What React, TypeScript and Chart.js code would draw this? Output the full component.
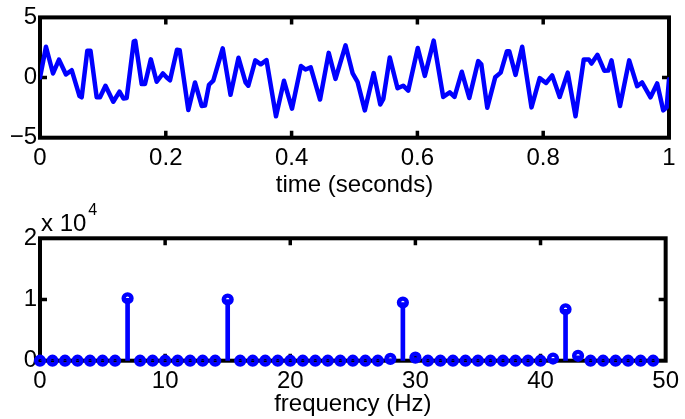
import React, { useEffect, useRef } from "react";
import { Chart, registerables } from "chart.js";

Chart.register(...registerables);

// ---- Data ----
const timeSec = [0, 0.0095, 0.0207, 0.0302, 0.0413, 0.0504, 0.0628, 0.0663, 0.0752, 0.0803, 0.0901, 0.0954, 0.1041, 0.1165, 0.1264, 0.1328, 0.1378, 0.1491, 0.1515, 0.1617, 0.1669, 0.1762, 0.1855, 0.1955, 0.2019, 0.2067, 0.2178, 0.2221, 0.2358, 0.2464, 0.2571, 0.2623, 0.2687, 0.2755, 0.2905, 0.3029, 0.3156, 0.3267, 0.3312, 0.3423, 0.3509, 0.3601, 0.3752, 0.3879, 0.4006, 0.4149, 0.4221, 0.4304, 0.4452, 0.459, 0.4698, 0.4857, 0.4971, 0.5048, 0.5164, 0.5305, 0.541, 0.5458, 0.5561, 0.5684, 0.5774, 0.5854, 0.6006, 0.6118, 0.6259, 0.641, 0.6515, 0.659, 0.6706, 0.6825, 0.6967, 0.7016, 0.7111, 0.7237, 0.7324, 0.7424, 0.7461, 0.756, 0.7666, 0.7814, 0.7944, 0.8045, 0.8143, 0.8262, 0.839, 0.8514, 0.8645, 0.8725, 0.8768, 0.8863, 0.8971, 0.9035, 0.9086, 0.9221, 0.9367, 0.9494, 0.9571, 0.9706, 0.9812, 0.9909, 0.9963, 1.0];
const signal = [0, 2.56, 0.34, 1.49, 0.26, 0.61, -1.54, -1.64, 2.23, 2.23, -1.64, -1.64, -0.68, -2.01, -1.17, -1.75, -1.7, 3.01, 3.05, -0.54, -0.54, 1.51, -0.35, 0.34, -0.02, -0.23, 2.31, 2.27, -2.7, -0.41, -2.36, -2.32, -0.6, -0.25, 2.43, -1.43, 1.64, -0.39, -0.68, 1.43, 1.1, 1.45, -3.22, -0.27, -2.59, 0.96, 0.67, 0.85, -1.83, 2.05, -0.11, 2.68, 0.34, -0.35, -2.73, 0.37, -2.24, -1.77, 1.67, -0.89, -0.68, -1.09, 2.46, 0.14, 3.07, -1.61, -1.23, -1.61, 0.48, -1.7, 1.37, 1.1, -2.51, 0.02, 0.41, 2.19, 2.19, 0.22, 2.56, -2.48, -0.05, -0.45, 0.18, -1.61, 0.41, -3.22, 1.51, 1.51, 1.16, 1.89, 0.57, 0.59, 1.43, -2.36, 1.43, -0.72, -0.41, -1.64, -0.49, -2.73, -2.48, -0.15];

const freqHz = [0, 1, 2, 3, 4, 5, 6, 7, 8, 9, 10, 11, 12, 13, 14, 15, 16, 17, 18, 19, 20, 21, 22, 23, 24, 25, 26, 27, 28, 29, 30, 31, 32, 33, 34, 35, 36, 37, 38, 39, 40, 41, 42, 43, 44, 45, 46, 47, 48, 49];
const power = [0, 0, 0, 0, 0, 0, 0, 10200, 0, 0, 0, 0, 0, 0, 0, 10000, 0, 0, 0, 0, 0, 0, 0, 0, 0, 0, 0, 0, 300, 9500, 500, 0, 0, 0, 0, 0, 0, 0, 0, 0, 0, 350, 8400, 800, 0, 0, 0, 0, 0, 0];

const timeTicks = [0, 0.2, 0.4, 0.6, 0.8, 1];
const signalTicks = [-5, 0, 5];
const freqTicks = [0, 10, 20, 30, 40, 50];
const powerTicks = [0, 10000, 20000];

const FONT = "'Liberation Sans', Arial, Helvetica, sans-serif";
const BLUE = "#0000ff";

const fmtTime = (v: number) => String(Number(v.toFixed(1)));
const fmtSignal = (v: number) => (v < 0 ? "\u2212" + Math.abs(v) : String(v));
const fmtPower = (v: number) => String(v / 10000);

function setTicks(arr: number[]) {
  return (scale: any) => {
    scale.ticks = arr.map((v) => ({ value: v }));
  };
}

// Draws the MATLAB-like box and inward ticks
const framePlugin = {
  id: "frame",
  beforeDatasetsDraw(chart: any) {
    const { ctx, chartArea: a, scales } = chart;
    ctx.save();
    ctx.strokeStyle = "#000";
    ctx.lineWidth = 4;
    ctx.strokeRect(a.left, a.top, a.right - a.left, a.bottom - a.top);
    ctx.lineWidth = 3.5;
    const tl = 7;
    const xs = scales.x;
    xs.ticks.forEach((t: any) => {
      const px = xs.getPixelForValue(t.value);
      if (px <= a.left + 1 || px >= a.right - 1) return;
      ctx.beginPath();
      ctx.moveTo(px, a.top);
      ctx.lineTo(px, a.top + tl);
      ctx.moveTo(px, a.bottom);
      ctx.lineTo(px, a.bottom - tl);
      ctx.stroke();
    });
    const ys = scales.y;
    ys.ticks.forEach((t: any) => {
      const py = ys.getPixelForValue(t.value);
      if (py <= a.top + 1 || py >= a.bottom - 1) return;
      ctx.beginPath();
      ctx.moveTo(a.left, py);
      ctx.lineTo(a.left + tl, py);
      ctx.moveTo(a.right, py);
      ctx.lineTo(a.right - tl, py);
      ctx.stroke();
    });
    ctx.restore();
  },
};

const exponentPlugin = {
  id: "exponent",
  afterDraw(chart: any) {
    const { ctx } = chart;
    ctx.save();
    ctx.fillStyle = "#000";
    ctx.textBaseline = "alphabetic";
    ctx.textAlign = "left";
    ctx.font = `24px ${FONT}`;
    ctx.fillText("x 10", 41, 31);
    const w = ctx.measureText("x 10").width;
    ctx.font = `16px ${FONT}`;
    ctx.fillText("4", 41 + w + 2, 15);
    ctx.restore();
  },
};

function baseScales(
  xTicks: number[],
  yTicks: number[],
  xFmt: (v: number) => string,
  yFmt: (v: number) => string,
  xTitle: string,
  xHeight: number
) {
  const font = { family: FONT, size: 24 };
  return {
    x: {
      type: "linear" as const,
      min: xTicks[0],
      max: xTicks[xTicks.length - 1],
      offset: false,
      afterBuildTicks: setTicks(xTicks),
      afterFit: (s: any) => {
        s.height = xHeight;
      },
      grid: { display: false, drawTicks: false },
      border: { display: false },
      ticks: {
        color: "#000",
        font,
        padding: 6,
        maxRotation: 0,
        autoSkip: false,
        callback: (v: any) => xFmt(Number(v)),
      },
      title: {
        display: true,
        text: xTitle,
        color: "#000",
        font,
        padding: { top: 0, bottom: 0 },
      },
    },
    y: {
      type: "linear" as const,
      min: yTicks[0],
      max: yTicks[yTicks.length - 1],
      afterBuildTicks: setTicks(yTicks),
      afterFit: (s: any) => {
        s.width = 40;
      },
      grid: { display: false, drawTicks: false },
      border: { display: false },
      ticks: {
        color: "#000",
        font,
        padding: 3,
        autoSkip: false,
        callback: (v: any) => yFmt(Number(v)),
      },
    },
  };
}

export default function App() {
  const topRef = useRef<HTMLCanvasElement>(null);
  const botRef = useRef<HTMLCanvasElement>(null);

  useEffect(() => {
    const topChart = new Chart(topRef.current as HTMLCanvasElement, {
      type: "line",
      data: {
        datasets: [
          {
            data: timeSec.map((t, i) => ({ x: t, y: signal[i] })),
            borderColor: BLUE,
            borderWidth: 4.5,
            pointRadius: 0,
            tension: 0,
            borderJoinStyle: "round",
            borderCapStyle: "round",
          } as any,
        ],
      },
      options: {
        responsive: false,
        animation: false,
        layout: { padding: { top: 15.7, right: 16, left: 0, bottom: 0 } },
        plugins: { legend: { display: false }, tooltip: { enabled: false } },
        scales: baseScales(timeTicks, signalTicks, fmtTime, fmtSignal, "time (seconds)", 62.3) as any,
      },
      plugins: [framePlugin],
    });

    const botChart = new Chart(botRef.current as HTMLCanvasElement, {
      type: "bar",
      data: {
        datasets: [
          {
            type: "bar",
            data: freqHz.map((f, i) => ({ x: f, y: power[i] })),
            backgroundColor: BLUE,
            borderWidth: 0,
            barThickness: 4,
            grouped: false,
            order: 2,
          } as any,
          {
            type: "line",
            data: freqHz.map((f, i) => ({ x: f, y: power[i] })),
            showLine: false,
            pointRadius: 3.9,
            pointBorderWidth: 4.4,
            pointBorderColor: BLUE,
            pointBackgroundColor: "rgba(0,0,0,0)",
            pointStyle: "circle",
            clip: false,
            order: 1,
          } as any,
        ],
      },
      options: {
        responsive: false,
        animation: false,
        layout: { padding: { top: 38.3, right: 16, left: 0, bottom: 0 } },
        plugins: { legend: { display: false }, tooltip: { enabled: false } },
        scales: baseScales(freqTicks, powerTicks, (v) => String(v), fmtPower, "frequency (Hz)", 58.3) as any,
      },
      plugins: [framePlugin, exponentPlugin],
    });

    return () => {
      topChart.destroy();
      botChart.destroy();
    };
  }, []);

  return (
    <div style={{ position: "fixed", left: 0, top: 0, width: 685, height: 419, background: "#fff" }}>
      <canvas ref={topRef} width={685} height={200} style={{ display: "block", position: "absolute", left: 0, top: 0 }} />
      <canvas ref={botRef} width={685} height={219} style={{ display: "block", position: "absolute", left: 0, top: 200 }} />
    </div>
  );
}
